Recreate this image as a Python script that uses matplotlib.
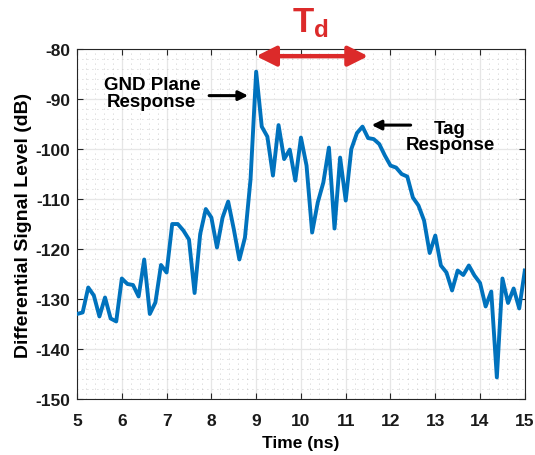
import numpy as np
import matplotlib
matplotlib.use("Agg")
import matplotlib.pyplot as plt
from matplotlib.ticker import MultipleLocator

# time axis in ns, sampled every 0.125 ns
time_ns = np.arange(5.0, 15.0001, 0.125)
signal_db = [
    -133.0, -132.7, -127.7, -129.3, -133.5, -129.7, -133.9, -134.5,
    -125.9, -127.0, -127.2, -129.5, -122.1, -133.0, -130.7, -123.2,
    -124.7, -115.0, -115.0, -116.3, -118.1, -128.8, -117.0, -112.0,
    -113.7, -119.7, -113.7, -110.5, -116.0, -122.1, -117.7, -106.0,
    -84.5, -95.5, -97.5, -105.3, -95.2, -102.0, -100.1, -106.3,
    -97.7, -103.3, -116.7, -110.7, -106.7, -99.7, -115.9, -101.7,
    -110.3, -100.0, -96.8, -95.5, -97.8, -98.0, -99.0, -101.3,
    -103.3, -103.7, -105.0, -105.5, -109.7, -111.3, -114.3, -120.8,
    -117.3, -123.3, -124.7, -128.3, -124.3, -125.2, -123.3, -125.3,
    -126.8, -131.5, -128.5, -145.7, -125.9, -130.8, -127.9, -131.9,
    -124.3,
]

x_ticks = np.arange(5, 16, 1)
y_ticks = np.arange(-150, -79, 10)

plt.rcParams['font.family'] = ['Liberation Sans', 'DejaVu Sans']
plt.rcParams['font.weight'] = 'bold'
plt.rcParams['axes.unicode_minus'] = False
plt.rcParams['mathtext.fontset'] = 'custom'
plt.rcParams['mathtext.rm'] = 'Liberation Sans:bold'
plt.rcParams['mathtext.it'] = 'Liberation Sans:bold'
plt.rcParams['mathtext.bf'] = 'Liberation Sans:bold'

fig = plt.figure(figsize=(5.35, 4.56), dpi=100)
ax = fig.add_axes([0.144, 0.123, 0.837, 0.767])

ax.plot(time_ns, signal_db, color='#0072BD', linewidth=2.8, zorder=3)

ax.set_xlim(5, 15)
ax.set_ylim(-150, -80)
ax.set_xticks(x_ticks)
ax.set_yticks(y_ticks)
ax.xaxis.set_minor_locator(MultipleLocator(0.2))
ax.yaxis.set_minor_locator(MultipleLocator(2))

ax.grid(True, which='major', color='#e6e6e6', linewidth=0.9, linestyle='-')
ax.grid(True, which='minor', color='#bdbdbd', linewidth=0.6, linestyle=(0, (1, 5)))
ax.set_axisbelow(True)

ax.tick_params(which='both', direction='in', top=True, right=True,
               colors='#262626', labelcolor='#1a1a1a', labelsize=12.5)
ax.tick_params(which='major', length=4, width=0.8, pad=5)
ax.tick_params(axis='x', which='major', pad=10)
ax.tick_params(which='minor', length=0)
for s in ax.spines.values():
    s.set_color('#262626')
    s.set_linewidth(0.8)

ax.set_xlabel('Time (ns)', fontsize=12.5, fontweight='bold', labelpad=5)
ax.set_ylabel('Differential Signal Level (dB)', fontsize=14, fontweight='bold', labelpad=2)

# annotations
ax.annotate('', xy=(9.0, -81.4), xytext=(11.5, -81.4),
            arrowprops=dict(arrowstyle='<|-|>', color='#DC2A2A', lw=3.2,
                            mutation_scale=30, shrinkA=0, shrinkB=0),
            annotation_clip=False, zorder=5)
ax.text(10.22, -74.6, r'$\mathrm{T_d}$', color='#DC2A2A', fontsize=25,
        ha='center', va='center', clip_on=False)

ax.text(6.67, -88.8, 'GND Plane\nResponse', ha='center', va='center',
        fontsize=13.5, fontweight='bold', linespacing=0.95)
ax.annotate('', xy=(8.82, -89.3), xytext=(7.95, -89.3),
            arrowprops=dict(arrowstyle='-|>', color='black', lw=2.2,
                            mutation_scale=14, shrinkA=0, shrinkB=0))

ax.text(13.33, -97.5, 'Tag\nResponse', ha='center', va='center',
        fontsize=13.5, fontweight='bold', linespacing=0.95)
ax.annotate('', xy=(11.58, -95.2), xytext=(12.45, -95.2),
            arrowprops=dict(arrowstyle='-|>', color='black', lw=2.2,
                            mutation_scale=14, shrinkA=0, shrinkB=0))

fig.savefig('out.png', dpi=100)
